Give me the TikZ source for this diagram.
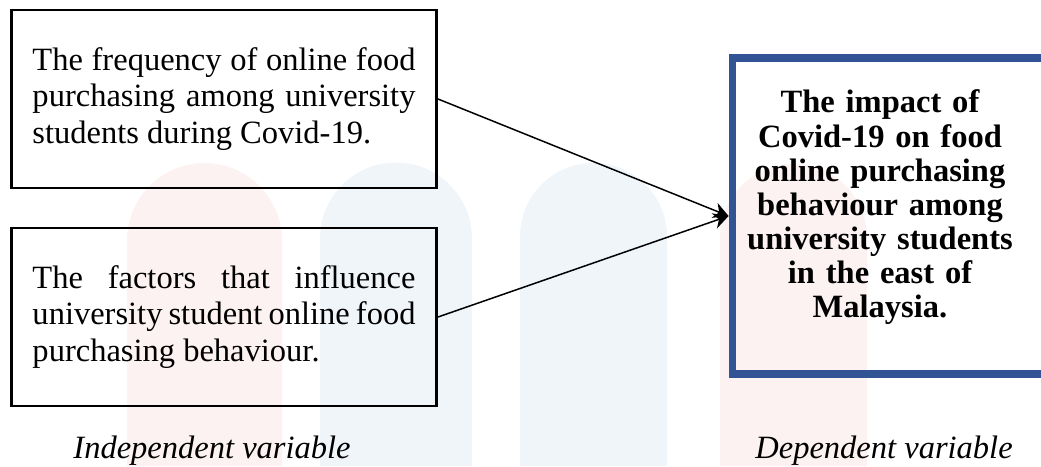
\documentclass[tikz,border=0pt]{standalone}
\usepackage{fontspec}
\setmainfont{Liberation Serif}
\usetikzlibrary{arrows.meta, positioning}

\definecolor{dvblue}{RGB}{50,84,148}
\definecolor{wmpink}{RGB}{253,242,242}
\definecolor{wmblue}{RGB}{240,245,250}

\begin{document}
\begin{tikzpicture}[
  >=Stealth,
  font=\fontsize{18.5}{21}\selectfont,
  ivbox/.style={draw, line width=1.7pt, minimum width=8.5cm, minimum height=3.56cm,
    text width=7.66cm, align=justify},
  dvbox/.style={draw=dvblue, line width=4.5pt, minimum width=6.25cm, minimum height=6.32cm},
  dvtext/.style={text width=5.9cm, align=center, font=\fontsize{18.5}{19.4}\selectfont\bfseries},
  varlabel/.style={font=\fontsize{18.5}{21}\selectfont\itshape},
  arrowI/.style={->, line width=0.85pt, arrows={-Stealth[length=0.3cm, width=0.32cm]}}
]
\useasboundingbox (0,0) rectangle (20.82,9.32);
\clip (0,0) rectangle (20.82,9.32);

% faint watermark behind the diagram
\fill[wmpink] (2.54,0) -- (2.54,4.51) arc (180:0:1.55) -- (5.64,0) -- cycle;
\fill[wmblue] (6.4,0) -- (6.4,4.55) arc (180:0:1.52) -- (9.44,0) -- cycle;
\fill[wmblue] (10.4,0) -- (10.4,4.59) arc (180:0:1.47) -- (13.34,0) -- cycle;
\fill[wmpink] (14.4,0) -- (14.4,4.57) arc (180:0:1.47) -- (17.34,0) -- cycle;

% Independent variables
\node[ivbox] (freq) at (4.48,7.34) {The frequency of online food\linebreak
  purchasing among university\linebreak students during Covid-19.};
\node[ivbox] (factors) at (4.48,2.98) {The factors that influence\linebreak
  university student online food\linebreak purchasing behaviour.};

% Dependent variable (right side runs off the page)
\node[dvbox] (dv) at (17.775,5.0) {};
\node[dvtext, anchor=base] (dvtext) at (17.6,7.06) {The impact of\\ Covid-19 on food\\
  online purchasing\\ behaviour among\\ university students\\ in the east of\\ Malaysia.};

% Links
\draw[arrowI] (freq.east) -- (dv.west);
\draw[arrowI] (factors.east) -- (dv.west);

% Captions
\node[varlabel, anchor=base] (ivlabel) at (4.24,0.16) {Independent variable};
\node[varlabel, anchor=base] (dvlabel) at (17.68,0.16) {Dependent variable};

\end{tikzpicture}
\end{document}
